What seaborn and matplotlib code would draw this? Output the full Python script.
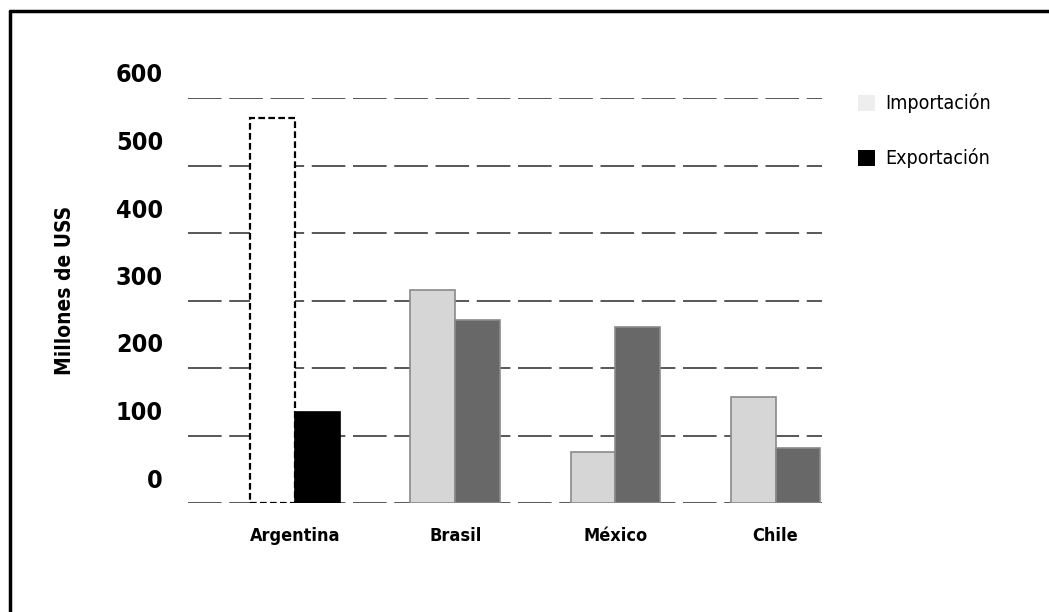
import matplotlib
matplotlib.use("Agg")
import matplotlib.pyplot as plt
import matplotlib.transforms as mtransforms
from matplotlib.patches import Patch
from matplotlib.lines import Line2D
import seaborn as sns
import pandas as pd

# ---- data ----
paises = ["Argentina", "Brasil", "México", "Chile"]
importacion = [570, 315, 75, 157]
exportacion = [135, 271, 261, 81]
series = ["Importación", "Exportación"]
yticks = [0, 100, 200, 300, 400, 500, 600]

df = pd.DataFrame({
    "País": paises * 2,
    "Millones": importacion + exportacion,
    "Tipo": [series[0]] * len(paises) + [series[1]] * len(paises),
})

sns.set_theme(style="white")
plt.rcParams["font.family"] = ["DejaVu Sans"]
plt.rcParams["font.stretch"] = "condensed"
plt.rcParams["text.color"] = "black"
plt.rcParams["xtick.color"] = "black"
plt.rcParams["ytick.color"] = "black"
plt.rcParams["axes.labelcolor"] = "black"

col_imp = "#d6d6d6"
col_exp = "#686868"

fig = plt.figure(figsize=(10.49, 6.12), dpi=100)
ax = fig.add_axes([188 / 1049, 1 - 503 / 612, (822 - 188) / 1049, (503 - 98) / 612])

sns.barplot(data=df, x="País", y="Millones", hue="Tipo", hue_order=series,
            order=paises, palette=[col_imp, col_exp], width=0.56, gap=0,
            saturation=1, legend=False, ax=ax, zorder=3)

# styling of individual bars (Argentina drawn differently in the original)
for ci, cont in enumerate(ax.containers):
    bars = sorted(cont.patches, key=lambda p: p.get_x())
    for bi, p in enumerate(bars):
        p.set_edgecolor("#8a8a8a")
        p.set_linewidth(1.2)
        if bi == 0 and ci == 0:
            p.set_facecolor("white")
            p.set_edgecolor("black")
            p.set_linestyle((0, (3, 1.5)))
            p.set_linewidth(1.6)
        if bi == 0 and ci == 1:
            p.set_facecolor("black")
            p.set_edgecolor("black")

ax.set_ylim(0, 600)
ax.set_xlim(-0.669, 3.29)
ax.set_yticks(yticks)
ax.set_yticklabels([str(v) for v in yticks])
ax.grid(axis="y", color="#2a2a2a", linewidth=1.1, linestyle=(0, (22, 5)), zorder=0)
ax.grid(axis="x", visible=False)
for s in ax.spines.values():
    s.set_visible(False)

ax.tick_params(axis="y", length=0, pad=18, labelsize=18, labelcolor="black")
ax.tick_params(axis="x", length=0, pad=17, labelsize=13, labelcolor="black")
for lab in ax.get_yticklabels():
    lab.set_fontweight("bold")
    lab.set_transform(lab.get_transform() +
                      mtransforms.ScaledTranslation(0, 25 / 100, fig.dpi_scale_trans))
for lab in ax.get_xticklabels():
    lab.set_fontweight("bold")

ax.set_xlabel("")
ax.set_ylabel("Millones de USS", fontsize=15, fontweight="bold", color="black")
ax.yaxis.set_label_coords(-0.178, 0.526)

handles = [Patch(facecolor="#eeeeee", edgecolor="none"),
           Patch(facecolor="black", edgecolor="none")]
leg = fig.legend(handles, series, loc="upper left", bbox_to_anchor=(0.801, 0.876),
                 bbox_transform=fig.transFigure, frameon=False, fontsize=14,
                 handlelength=0.9, handleheight=0.9, handletextpad=0.5,
                 labelspacing=1.8)
for t in leg.get_texts():
    t.set_color("black")

# partial frame (top and left) as in the scanned page
fig.add_artist(Line2D([10 / 1049, 10 / 1049], [0, 1 - 11 / 612], color="black",
                      linewidth=2.5, transform=fig.transFigure))
fig.add_artist(Line2D([10 / 1049, 1], [1 - 11 / 612, 1 - 11 / 612], color="black",
                      linewidth=2.5, transform=fig.transFigure))

fig.savefig("out.png", dpi=100)
